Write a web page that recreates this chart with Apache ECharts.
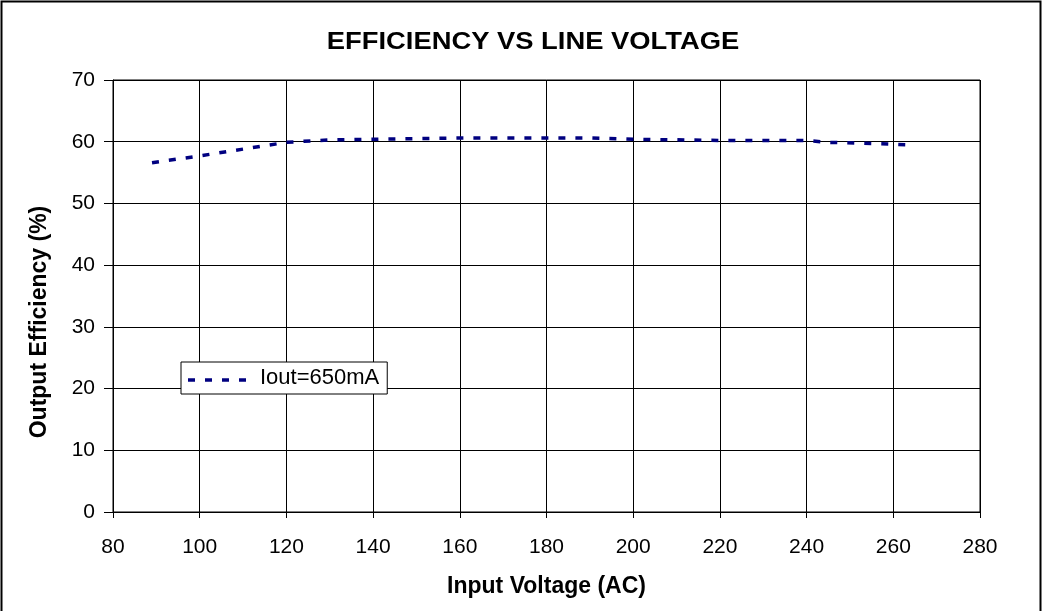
<!DOCTYPE html>
<html>
<head>
<meta charset="utf-8">
<script src="https://cdn.jsdelivr.net/npm/echarts@6/dist/echarts.min.js"></script>
<style>html,body{margin:0;padding:0;background:#fff}#c{width:1043px;height:611px}</style>
</head>
<body>
<div id="c"></div>
<script>
var voltage = [89, 100, 110, 120, 130, 140, 150, 160, 170, 180, 190, 200, 210, 220, 230, 240, 245, 255, 264];
var efficiency = [56.6, 57.7, 58.8, 59.9, 60.3, 60.4, 60.5, 60.6, 60.6, 60.6, 60.6, 60.4, 60.3, 60.2, 60.2, 60.2, 59.9, 59.7, 59.5];
var seriesName = 'Iout=650mA';
var titleText = 'EFFICIENCY VS LINE VOLTAGE';
var xName = 'Input Voltage (AC)';
var yName = 'Output Efficiency (%)';

var font = '"Liberation Sans", Arial, sans-serif';
var chart = echarts.init(document.getElementById('c'), null, {renderer: 'canvas'});
var pts = voltage.map(function (v, i) { return [v, efficiency[i]]; });
chart.setOption({
  animation: false,
  backgroundColor: '#fff',
  grid: {left: 113, right: 63, top: 80, bottom: 99},
  legend: {
    left: 181, top: 362, orient: 'vertical',
    backgroundColor: '#fff', borderColor: '#000', borderWidth: 1,
    padding: [5, 8, 5, 6], itemWidth: 70, itemHeight: 10,
    textStyle: {fontFamily: font, fontSize: 22, color: '#000', padding: [0, 0, 0, -2]},
    data: [{name: seriesName, icon: 'none'}]
  },
  xAxis: {
    type: 'value', min: 80, max: 280, interval: 20,
    name: xName, nameLocation: 'middle', nameGap: 63,
    nameTextStyle: {fontFamily: font, fontWeight: 'bold', fontSize: 23, color: '#000'},
    axisLine: {show: true, onZero: false, lineStyle: {color: '#000', width: 1}},
    axisTick: {show: true, length: 6, inside: false, lineStyle: {color: '#000'}},
    axisLabel: {fontFamily: font, fontSize: 21, color: '#000', margin: 25},
    splitLine: {show: true, lineStyle: {color: '#000', width: 1}}
  },
  yAxis: {
    type: 'value', min: 0, max: 70, interval: 10,
    axisLine: {show: true, lineStyle: {color: '#000', width: 1}},
    axisTick: {show: true, length: 9, lineStyle: {color: '#000'}},
    axisLabel: {fontFamily: font, fontSize: 21, color: '#000', margin: 18},
    splitLine: {show: true, lineStyle: {color: '#000', width: 1}}
  },
  series: [{
    name: seriesName, type: 'line', data: pts,
    showSymbol: false, symbol: 'none',
    lineStyle: {color: '#000080', width: 3.5, type: [7, 10]},
    itemStyle: {color: '#000080'}
  }],
  graphic: [
    {type: 'rect', shape: {x: 1.5, y: 1.5, width: 1039, height: 620}, style: {fill: null, stroke: '#000', lineWidth: 2}, silent: true},
    {type: 'rect', shape: {x: 113, y: 80, width: 867, height: 432}, style: {fill: null, stroke: '#000', lineWidth: 1}, silent: true, z: 10},
    {type: 'text', x: 533, y: 42, scaleX: 1.14, z: 50, silent: true,
      style: {text: titleText, font: 'bold 24px ' + font, fill: '#000', align: 'center', verticalAlign: 'middle'}},
    {type: 'text', x: 40, y: 322, rotation: Math.PI / 2, z: 50, silent: true,
      style: {text: yName, font: 'bold 23px ' + font, fill: '#000', align: 'center', verticalAlign: 'middle'}},
    {type: 'line', shape: {x1: 188, y1: 380, x2: 256, y2: 380}, style: {stroke: '#000080', lineWidth: 3.5, lineDash: [7, 10]}, z: 100, silent: true}
  ]
});
</script>
</body>
</html>
